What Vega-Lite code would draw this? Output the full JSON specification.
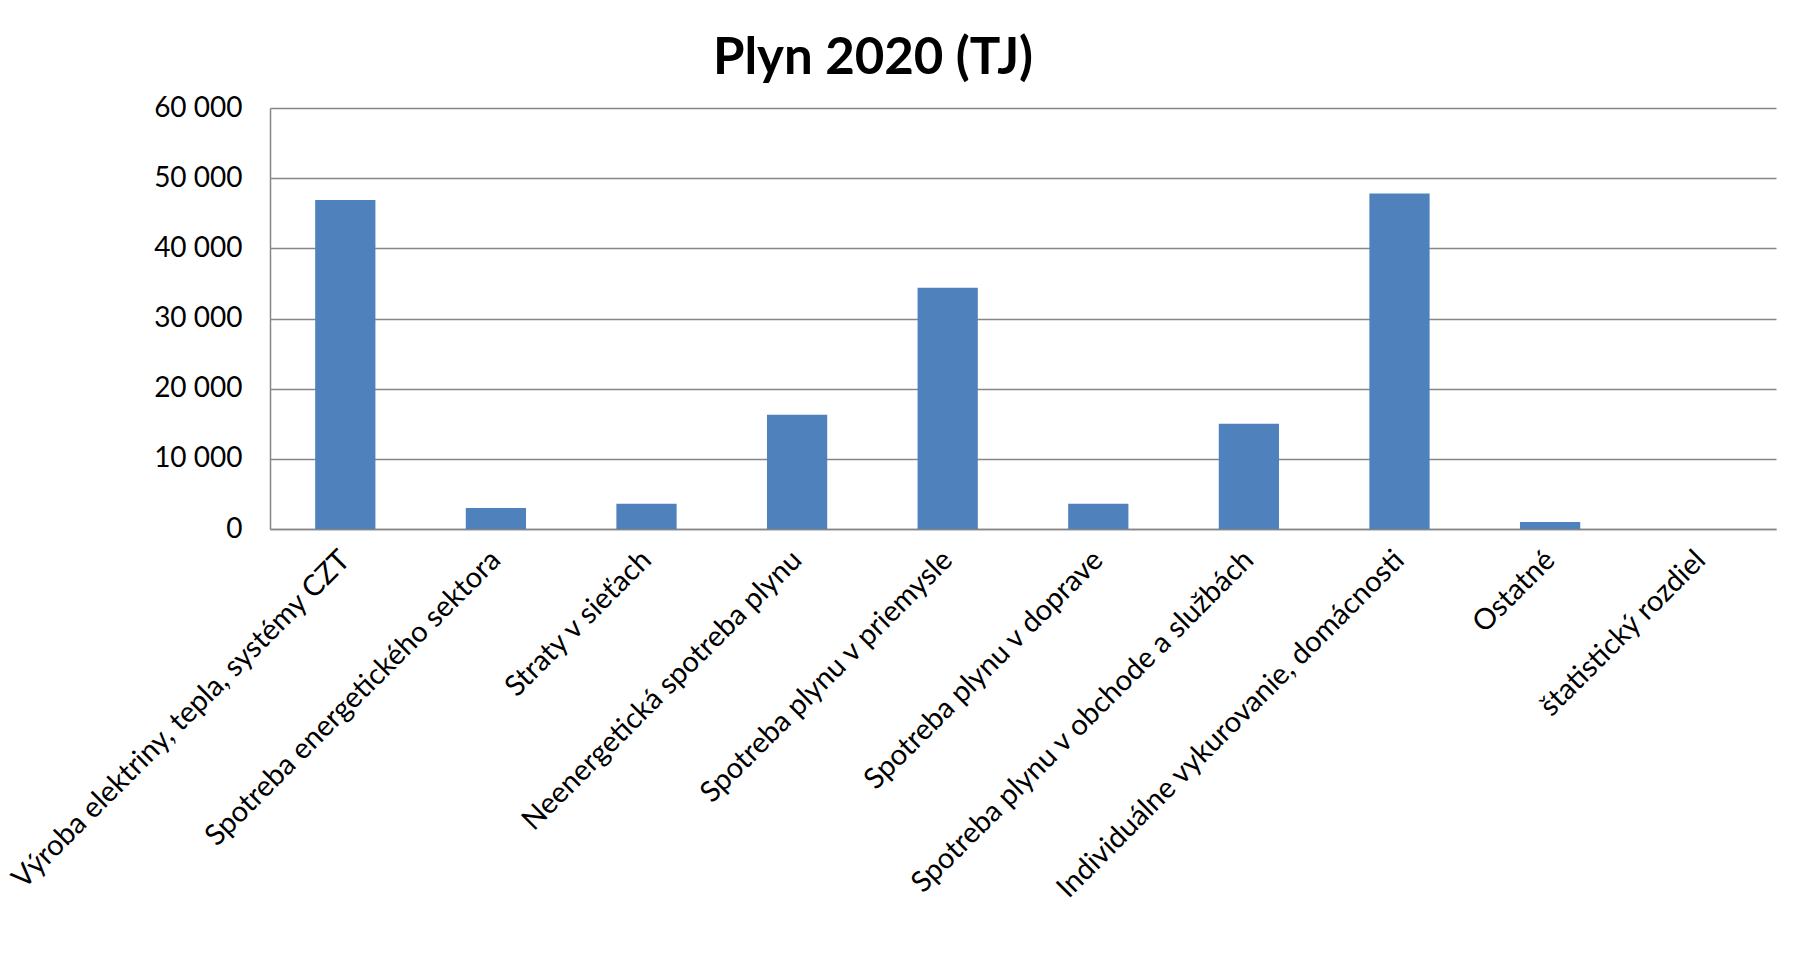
{
  "$schema": "https://vega.github.io/schema/vega-lite/v6.json",
  "autosize": "none",
  "width": 1506,
  "height": 421,
  "padding": {"left": 270, "top": 108, "right": 32, "bottom": 436},
  "background": "white",
  "title": {
    "text": "Plyn 2020 (TJ)",
    "font": "Lato",
    "fontSize": 51,
    "fontWeight": "bold",
    "color": "#000000",
    "anchor": "middle",
    "dx": -150,
    "offset": 9
  },
  "data": {
    "values": [
      {"sektor": "Výroba elektriny, tepla, systémy CZT", "tj": 46900},
      {"sektor": "Spotreba energetického sektora", "tj": 3000},
      {"sektor": "Straty v sieťach", "tj": 3600},
      {"sektor": "Neenergetická spotreba plynu", "tj": 16300},
      {"sektor": "Spotreba plynu v priemysle", "tj": 34400},
      {"sektor": "Spotreba plynu v doprave", "tj": 3600},
      {"sektor": "Spotreba plynu v obchode a službách", "tj": 15000},
      {"sektor": "Individuálne vykurovanie, domácnosti", "tj": 47800},
      {"sektor": "Ostatné", "tj": 1000},
      {"sektor": "štatistický rozdiel", "tj": 0}
    ]
  },
  "mark": {"type": "bar", "color": "#4F81BD"},
  "encoding": {
    "x": {
      "field": "sektor",
      "type": "nominal",
      "sort": null,
      "scale": {"paddingInner": 0.6, "paddingOuter": 0.3},
      "axis": {
        "title": null,
        "labelAngle": -45,
        "labelAlign": "right",
        "labelBaseline": "middle",
        "labelFont": "Lato",
        "labelFontSize": 29,
        "labelColor": "#000000",
        "labelPadding": 26,
        "labelLimit": 0,
        "ticks": false,
        "domainColor": "#868686",
        "domainWidth": 1.5
      }
    },
    "y": {
      "field": "tj",
      "type": "quantitative",
      "scale": {"domain": [0, 60000]},
      "axis": {
        "title": null,
        "values": [0, 10000, 20000, 30000, 40000, 50000, 60000],
        "labelExpr": "replace(format(datum.value, ','), ',', ' ')",
        "labelFont": "Lato",
        "labelFontSize": 28,
        "labelColor": "#000000",
        "labelPadding": 28,
        "ticks": false,
        "domainColor": "#868686",
        "domainWidth": 1.5,
        "gridColor": "#868686",
        "gridWidth": 1.5
      }
    }
  },
  "config": {"view": {"stroke": null}}
}
